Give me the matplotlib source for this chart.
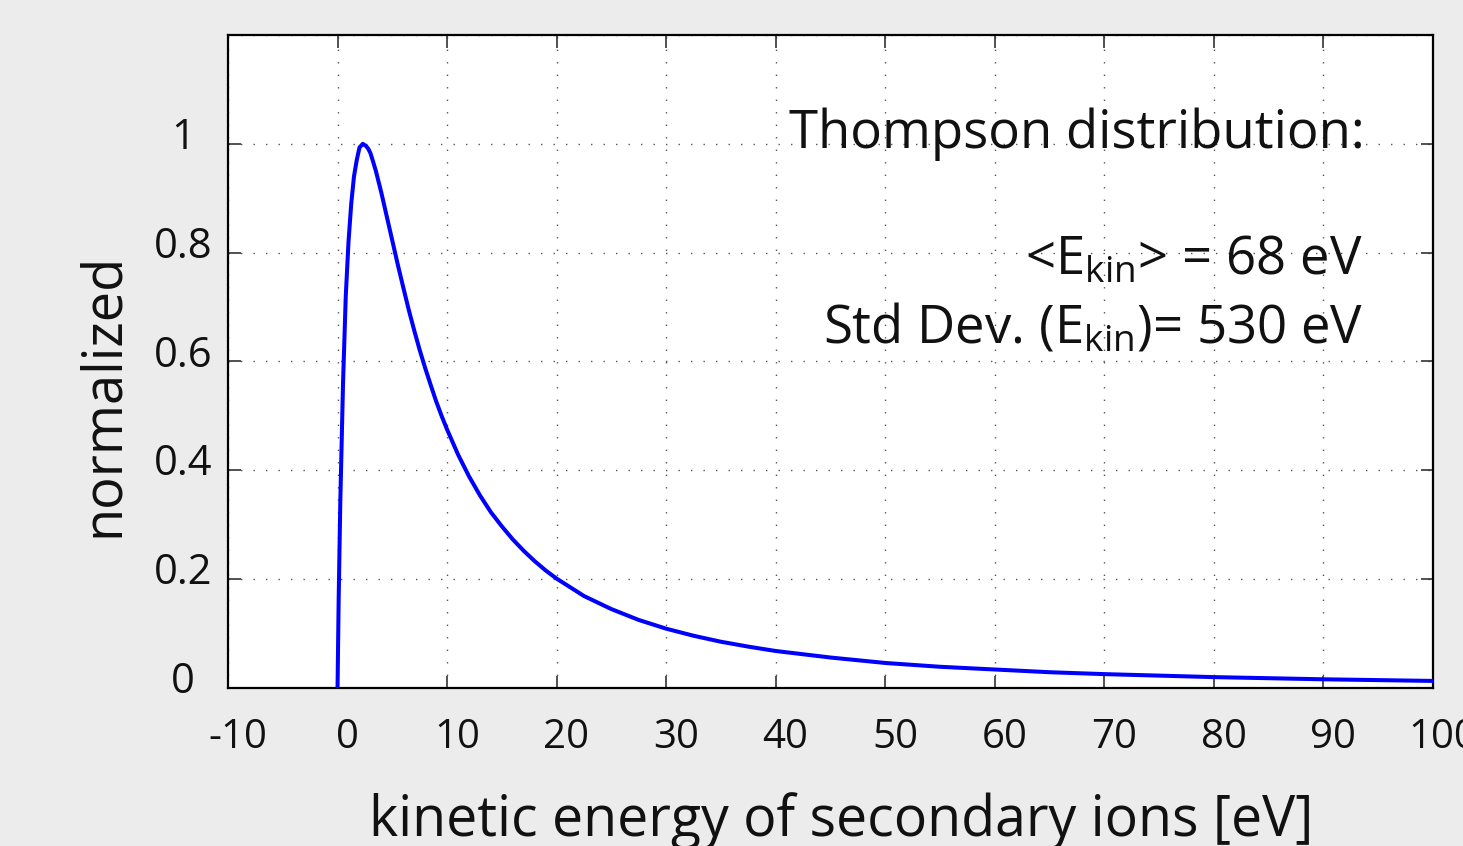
import matplotlib
matplotlib.use('Agg')
import matplotlib.pyplot as plt

plt.rcParams['font.family'] = ['Open Sans', 'DejaVu Sans']
plt.rcParams['mathtext.fontset'] = 'custom'
plt.rcParams['mathtext.rm'] = 'Open Sans'
plt.rcParams['mathtext.it'] = 'Open Sans:italic'

# values
energy = [0, 0.1, 0.25, 0.5, 0.75, 1, 1.25, 1.5, 1.75, 2, 2.3, 2.6, 2.8, 3, 3.25, 3.5, 4, 4.5,
          5, 5.5, 6, 6.5, 7, 7.5, 8, 8.5, 9, 9.5, 10, 11, 12, 13, 14, 15, 16, 17, 18, 19,
          20, 22.5, 25, 27.5, 30, 32.5, 35, 37.5, 40, 45, 50, 55, 60, 65, 70, 80, 90, 100]
norm = [0, 0.16, 0.34, 0.56, 0.72, 0.82, 0.89, 0.94, 0.97, 0.993, 1.0, 0.996, 0.991, 0.983,
        0.967, 0.95, 0.91, 0.866, 0.822, 0.778, 0.736, 0.695, 0.657, 0.621, 0.588, 0.557,
        0.527, 0.500, 0.475, 0.429, 0.389, 0.354, 0.323, 0.297, 0.273, 0.252, 0.233, 0.216,
        0.201, 0.169, 0.145, 0.125, 0.109, 0.096, 0.085, 0.076, 0.068, 0.056, 0.046, 0.039,
        0.034, 0.029, 0.0255, 0.020, 0.016, 0.013]

xticks = [-10, 0, 10, 20, 30, 40, 50, 60, 70, 80, 90, 100]
xticklabels = ['-10', '0', '10', '20', '30', '40', '50', '60', '70', '80', '90', '100']
yticks = [0, 0.2, 0.4, 0.6, 0.8, 1.0]
yticklabels = ['0', '0.2', '0.4', '0.6', '0.8', '1']

W, H = 1463, 846
fig = plt.figure(figsize=(W / 100, H / 100), dpi=100, facecolor='#ebeceb')
ax = fig.add_axes([228 / W, 1 - 688 / H, (1433 - 228) / W, (688 - 35) / H])
ax.set_facecolor('white')

ax.plot(energy, norm, color='#0000ff', lw=2.9, solid_joinstyle='round', zorder=3)

ax.set_xlim(-10, 100)
ax.set_ylim(0, 1.2)
ax.set_xticks(xticks)
ax.set_yticks(yticks + [1.2])
ax.tick_params(direction='in', length=9, width=1.2, color='#333333',
               top=True, right=True, labelbottom=False, labelleft=False)
ax.grid(True, color='#555555', lw=1.0, linestyle=(0, (1, 8)))
for s in ax.spines.values():
    s.set_linewidth(1.6)
    s.set_color('black')

# tick labels as text, offset like the reference
for v, t in zip(xticks, xticklabels):
    ax.annotate(t, xy=(v, 0), xycoords=('data', 'axes fraction'),
                xytext=(7, -36), textcoords='offset points',
                ha='center', va='center', fontsize=29, color='#111111',
                annotation_clip=False)
for v, t in zip(yticks, yticklabels):
    ax.annotate(t, xy=(0, v), xycoords=('axes fraction', 'data'),
                xytext=(-32.4, 4.3), textcoords='offset points',
                ha='center', va='center', fontsize=30, color='#111111',
                annotation_clip=False)

fig.text(841 / W, 1 - 836 / H, 'kinetic energy of secondary ions [eV]',
         ha='center', va='baseline', fontsize=40, color='#111111')
fig.text(118 / W, 1 - 395 / H, 'normalized', rotation=90, rotation_mode='anchor',
         ha='center', va='baseline', fontsize=39, color='#111111')

fig.text(1365 / W, 1 - 148 / H, 'Thompson distribution:',
         ha='right', va='baseline', fontsize=38, color='#111111')
fig.text(1363 / W, 1 - 275 / H, r'<E$_{\rm kin}$> = 68 eV',
         ha='right', va='baseline', fontsize=38, color='#111111')
fig.text(1363 / W, 1 - 342 / H, r'Std Dev. (E$_{\rm kin}$)= 530 eV',
         ha='right', va='baseline', fontsize=38, color='#111111')

fig.savefig('out.png', dpi=100, facecolor=fig.get_facecolor())
